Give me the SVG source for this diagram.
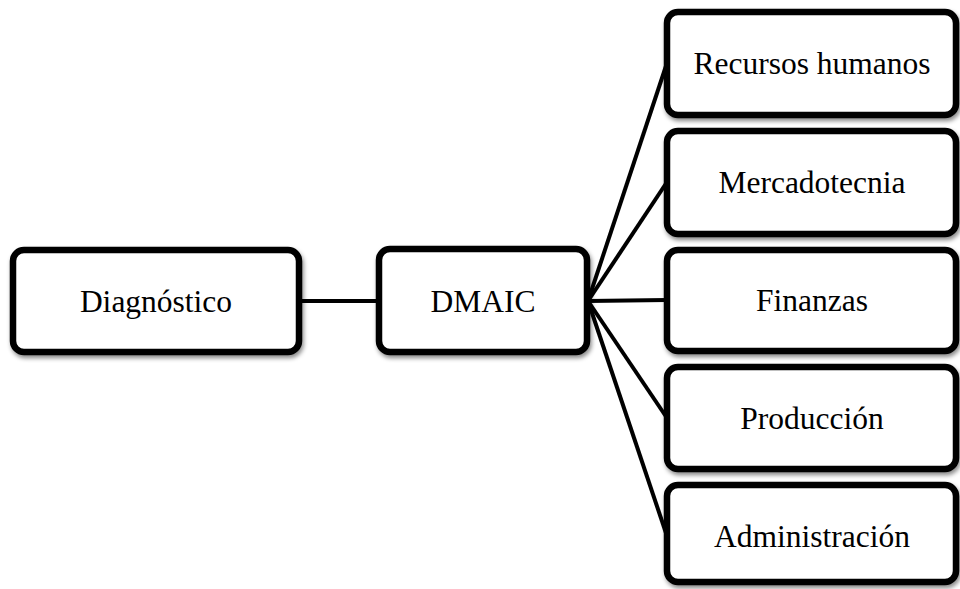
<svg xmlns="http://www.w3.org/2000/svg" width="960" height="589" viewBox="0 0 960 589">
  <defs>
    <filter id="shadow" x="-10%" y="-10%" width="120%" height="130%">
      <feDropShadow dx="1.5" dy="3" stdDeviation="2" flood-color="#000" flood-opacity="0.45"/>
    </filter>
  </defs>
  <style>
    .box { fill: #fff; stroke: #000; stroke-width: 6.5; filter: url(#shadow); }
    .lbl { font-family: "Liberation Serif", "Times New Roman", serif; font-size: 31.5px; fill: #000; text-anchor: middle; }
    .conn { stroke: #000; stroke-width: 4; fill: none; }
  </style>
  <rect width="960" height="589" fill="#fff"/>

  <!-- connectors -->
  <g id="connectors">
    <line class="conn" x1="299" y1="301" x2="379" y2="301"/>
    <line class="conn" x1="588" y1="301" x2="667" y2="63"/>
    <line class="conn" x1="588" y1="301" x2="667" y2="182"/>
    <line class="conn" x1="588" y1="301" x2="667" y2="300"/>
    <line class="conn" x1="588" y1="301" x2="667" y2="418"/>
    <line class="conn" x1="588" y1="301" x2="667" y2="536"/>
  </g>

  <g id="diagnostico">
    <rect class="box" x="13" y="250" width="286" height="102" rx="11"/>
    <text class="lbl" x="156" y="311.5">Diagnóstico</text>
  </g>

  <g id="dmaic">
    <rect class="box" x="379" y="249" width="208" height="103" rx="11"/>
    <text class="lbl" x="483" y="311.5">DMAIC</text>
  </g>

  <g id="recursos-humanos">
    <rect class="box" x="667" y="12" width="289" height="103" rx="11"/>
    <text class="lbl" x="812" y="74">Recursos humanos</text>
  </g>

  <g id="mercadotecnia">
    <rect class="box" x="667" y="131" width="289" height="103" rx="11"/>
    <text class="lbl" x="812" y="193">Mercadotecnia</text>
  </g>

  <g id="finanzas">
    <rect class="box" x="667" y="250" width="289" height="101" rx="11"/>
    <text class="lbl" x="812" y="311">Finanzas</text>
  </g>

  <g id="produccion">
    <rect class="box" x="667" y="367" width="289" height="102" rx="11"/>
    <text class="lbl" x="812" y="429">Producción</text>
  </g>

  <g id="administracion">
    <rect class="box" x="667" y="485" width="289" height="97" rx="11"/>
    <text class="lbl" x="812" y="547">Administración</text>
  </g>
</svg>
